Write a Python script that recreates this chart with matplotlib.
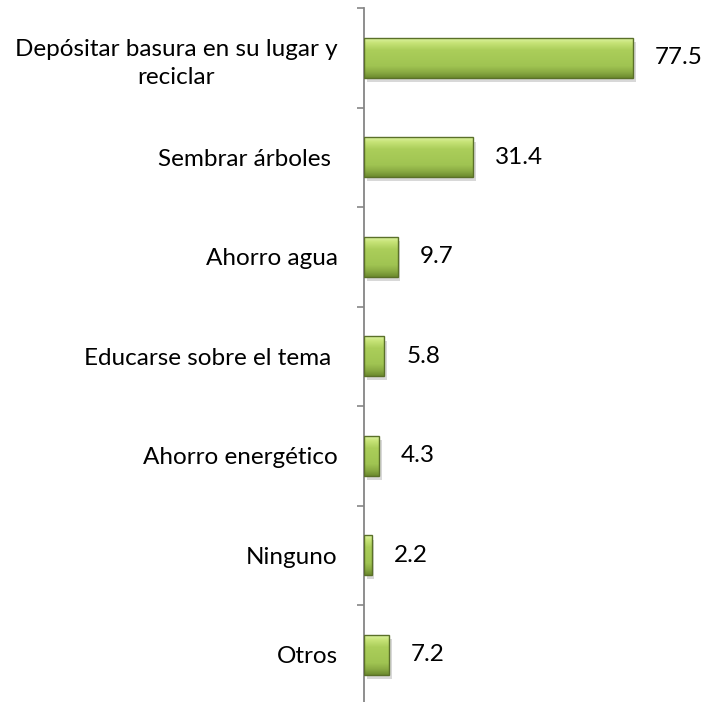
import numpy as np
import matplotlib.pyplot as plt
from matplotlib import patheffects
from matplotlib.colors import to_rgb

# datos
categorias = ["Depósitar basura en su lugar y\nreciclar", "Sembrar árboles ", "Ahorro agua",
              "Educarse sobre el tema ", "Ahorro energético", "Ninguno", "Otros"]
valores = [77.5, 31.4, 9.7, 5.8, 4.3, 2.2, 7.2]

plt.rcParams['font.family'] = ['Lato', 'DejaVu Sans']

fig = plt.figure(figsize=(7.18, 7.02), dpi=100)
ax = fig.add_axes([0.507, -0.0036, 0.483, 0.9922])

y = np.arange(len(valores))
alto = 0.4

bars = ax.barh(y, valores, height=alto, color='#9bbb59', linewidth=0, zorder=2)

# degradado vertical tipo bisel
stops = [(0.0, '#dcf2a0'), (0.12, '#c6e376'), (0.3, '#abce5a'),
         (0.7, '#a0c452'), (0.86, '#8aab43'), (1.0, '#6c8a2e')]
n = 64
t = np.linspace(0, 1, n)
grad = np.zeros((n, 1, 3))
for c in range(3):
    grad[:, 0, c] = np.interp(t, [s[0] for s in stops], [to_rgb(s[1])[c] for s in stops])

for b, v, yy in zip(bars, valores, y):
    b.set_path_effects([patheffects.SimplePatchShadow(offset=(2, -3), alpha=0.3, shadow_rgbFace='gray'),
                        patheffects.Normal()])
    im = ax.imshow(grad, extent=(0, v, yy + alto / 2, yy - alto / 2), aspect='auto',
                   zorder=2.5, interpolation='bilinear')
    im.set_clip_path(b)

# borde
ax.barh(y, valores, height=alto, fill=False, edgecolor='#5a7029', linewidth=1, zorder=3)

for v, yy in zip(valores, y):
    ax.annotate(f'{v}', xy=(v, yy), xytext=(16, 0), textcoords='offset points',
                va='center', ha='left', fontsize=17.5, color='black')

ax.set_xlim(0, 100)
ax.set_ylim(6.5, -0.5)

ax.set_yticks(y)
ax.set_yticklabels(categorias, multialignment='center', linespacing=1.4)
ax.tick_params(axis='y', which='major', length=0, pad=19, labelsize=17.5)
ax.set_yticks(np.arange(-0.5, 7, 1), minor=True)
ax.tick_params(axis='y', which='minor', length=5, width=1.2, color='#868686')
ax.xaxis.set_visible(False)

for s in ['top', 'right', 'bottom']:
    ax.spines[s].set_visible(False)
ax.spines['left'].set_color('#868686')
ax.spines['left'].set_linewidth(1.3)

fig.savefig('out.png', dpi=100)
